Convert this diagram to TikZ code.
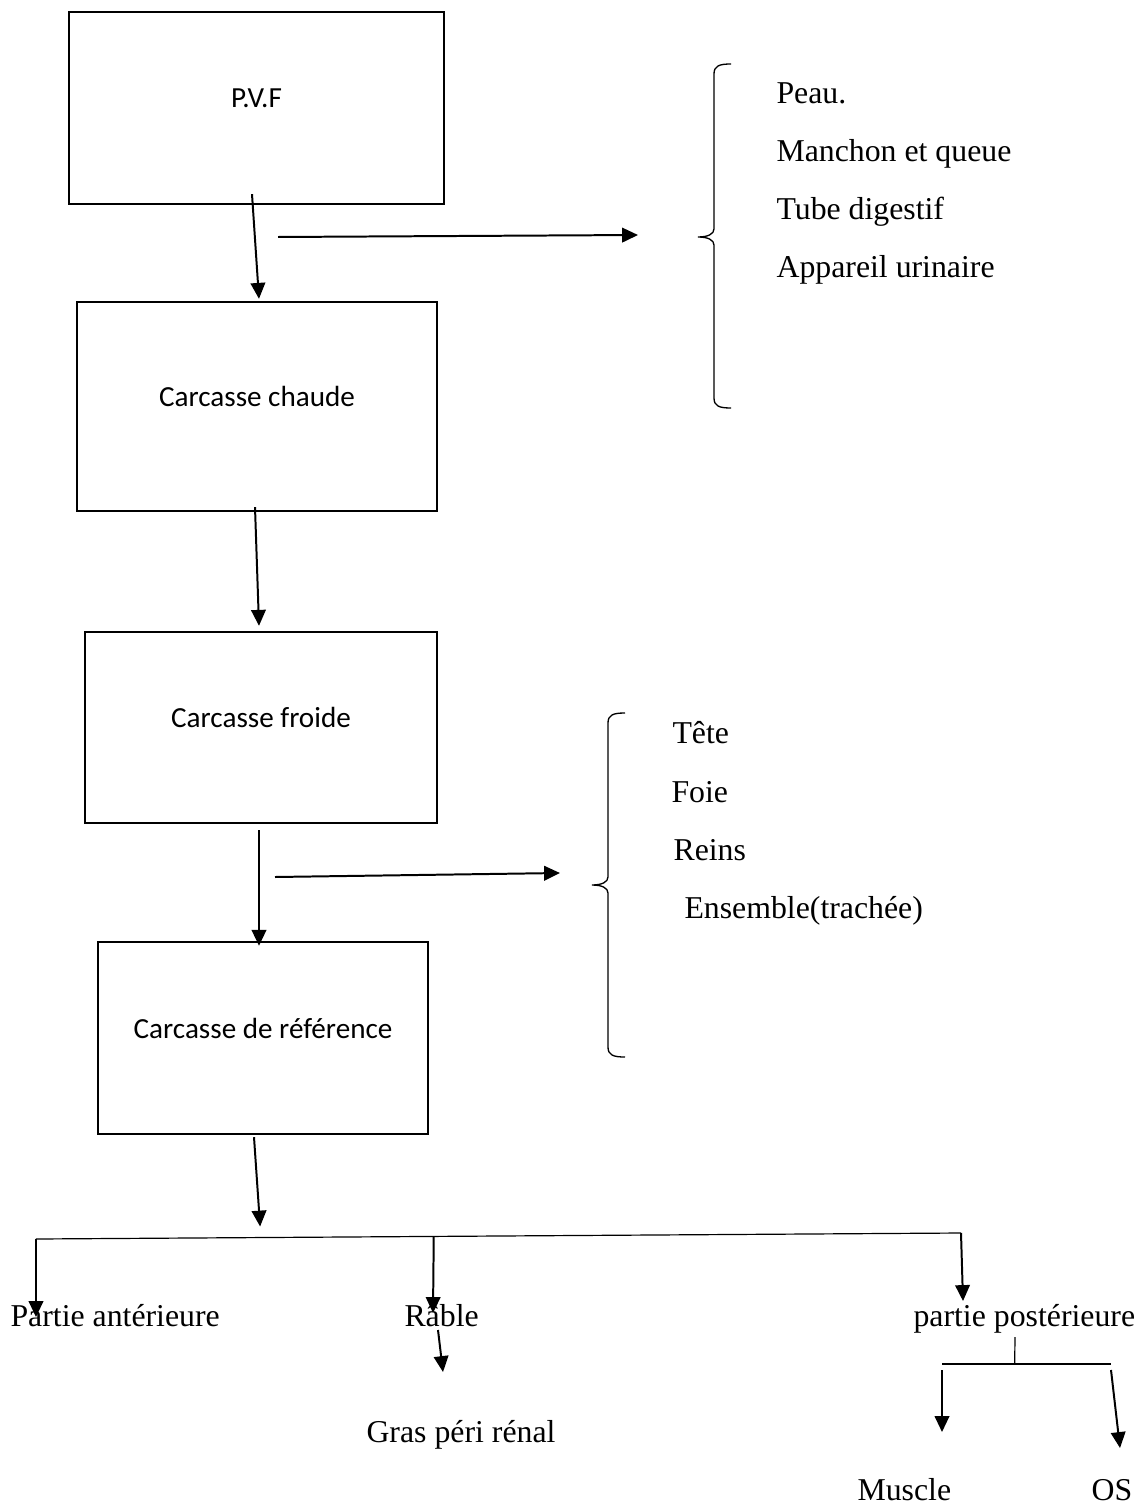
\documentclass[tikz,border=0pt]{standalone}
\usepackage{fontspec}
\setmainfont{Liberation Serif}
\newfontfamily\boxfont{Carlito}
\usetikzlibrary{arrows.meta,calc}
\newcommand\pxu{0.3774pt}
\tikzset{
  stage/.style={draw, line width=0.9pt, inner sep=0pt, text height=6pt, text depth=6pt,
    font=\boxfont\fontsize{11}{13}\selectfont},
  item/.style={inner sep=0pt, anchor=base west, font=\fontsize{12}{14}\selectfont},
  arr/.style={line width=0.75pt, -{Triangle[length=6pt,width=5.5pt]}},
  brc/.style={line width=0.5pt},
  bar/.style={line width=0.45pt}
}
\begin{document}
\begin{tikzpicture}[x=\pxu, y=-\pxu]
      \useasboundingbox (0,0) rectangle (1144,1504);

      % the four stages
      \node[stage, minimum width=375*\pxu, minimum height=192*\pxu] (pvf) at (256.5,108) {P.V.F};
      \node[stage, minimum width=360*\pxu, minimum height=209*\pxu] (chaude) at (257,406.5) {Carcasse chaude};
      \node[stage, minimum width=352*\pxu, minimum height=191*\pxu] (froide) at (261,727.5) {Carcasse froide};
      \node[stage, minimum width=330*\pxu, minimum height=192*\pxu] (ref) at (263,1038) {Carcasse de référence};

      \draw[arr] ([shift={(-4.5,-11)}]pvf.south) -- ([shift={(2,-2)}]chaude.north);
      \draw[arr] ([shift={(-2,-5)}]chaude.south) -- ([shift={(-2,-5)}]froide.north);
      \draw[arr] ([shift={(-2,6)}]froide.south) -- ([shift={(-4,5)}]ref.north);

      % first removal
      \coordinate (tip1) at (698,237);
      \coordinate (out1) at (278,237);
      \draw[arr] (out1) -- ([shift={(-60,-2)}]tip1);
      \draw[brc] (731,64) .. controls (719,64) and (714,66) .. (714,74) -- (714,229)
        .. controls (714,234) and (708,237) .. (tip1)
        .. controls (708,237) and (714,240) .. (714,245) -- (714,398)
        .. controls (714,406) and (719,408) .. (731,408);
        \node[item] (peau) at (776,104) {Peau.};
        \node[item] (manchon) at (776,162) {Manchon et queue};
        \node[item] (tube) at (776,220) {Tube digestif};
        \node[item] (urin) at (776,278) {Appareil urinaire};

      % second removal
      \coordinate (tip2) at (592,885);
      \coordinate (out2) at (275,877);
      \draw[arr] (out2) -- ([shift={(-32,-12)}]tip2);
      \draw[brc] (625,713) .. controls (613,713) and (608,715) .. (608,723) -- (608,877)
        .. controls (608,882) and (602,885) .. (tip2)
        .. controls (602,885) and (608,888) .. (608,893) -- (608,1047)
        .. controls (608,1055) and (613,1057) .. (625,1057);
        \node[item] (tete) at (672,743) {Tête};
        \node[item] (foie) at (671,802) {Foie};
        \node[item] (reins) at (673,860) {Reins};
        \node[item] (ensemble) at (684,918) {Ensemble(trachée)};

      % cutting
      \node[item] (ant) at (10,1326) {Partie antérieure};
      \node[item] (rable) at (404,1326) {Râble};
      \node[item] (post) at (913,1326) {partie postérieure};
      \node[item] (gras) at (366,1442) {Gras péri rénal};
      \node[item] (muscle) at (857,1500) {Muscle};
      \node[item] (os) at (1091,1500) {OS};

      \coordinate (barL) at (36,1239);
      \coordinate (barR) at (961,1233);
      \draw[arr] ([shift={(-9,2)}]ref.south) -- ([shift={(-2.5,-11)}]$(barL)!0.245!(barR)$);
      \draw[bar] (barL) -- (barR);
      \draw[arr] (barL) -- ([shift={(26,-9)}]ant.base west);
      \draw[arr] ($(barL)!0.43!(barR)$) -- ([shift={(29,-13)}]rable.base west);
      \draw[arr] (barR) -- ([shift={(50,-25)}]post.base west);
      \draw[arr] ([shift={(34,4)}]rable.base west) -- ([shift={(77,-70)}]gras.base west);

      \coordinate (subL) at (942,1364);
      \coordinate (subR) at (1111,1364);
      \draw[bar] (subL) -- (subR);
      \draw[bar] ([shift={(102,11)}]post.base west) -- ($(subL)!0.43!(subR)$);
      \draw[arr] ([yshift=-6*\pxu]subL) -- ([shift={(85,-68)}]muscle.base west);
      \draw[arr] ([yshift=-6*\pxu]subR) -- ([shift={(29,-52)}]os.base west);

\end{tikzpicture}
\end{document}
